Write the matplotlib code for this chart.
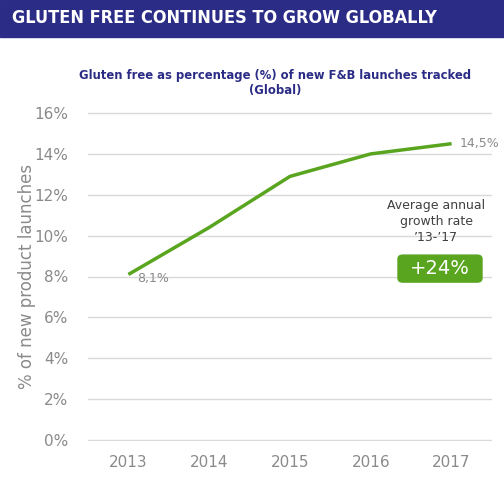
import matplotlib.pyplot as plt
from matplotlib.patches import Rectangle, FancyBboxPatch

# datos
years = ["2013", "2014", "2015", "2016", "2017"]
share = [8.1, 10.4, 12.9, 14.0, 14.5]
yticks = [0, 2, 4, 6, 8, 10, 12, 14, 16]

navy = "#2b2c86"
green = "#5aa51f"
gray = "#8a8a8a"

fig = plt.figure(figsize=(5.04, 4.88), dpi=100)

# banda del titulo
fig.patches.append(Rectangle((0, 1 - 37 / 488), 1, 37 / 488, transform=fig.transFigure,
                             color=navy, zorder=0))
fig.text(12 / 504, 1 - 18 / 488, "GLUTEN FREE CONTINUES TO GROW GLOBALLY", color="white",
         fontsize=13, fontweight="bold", va="center", ha="left",
         family="DejaVu Sans", fontstretch="condensed")

fig.text(275 / 504, 1 - 83 / 488, "Gluten free as percentage (%) of new F&B launches tracked\n(Global)",
         color=navy, fontsize=9.3, fontweight="bold", ha="center", va="center",
         family="DejaVu Sans", fontstretch="condensed", linespacing=1.25)

ax = fig.add_axes([88 / 504, 1 - 441 / 488, 404 / 504, 329 / 488])
x = list(range(len(years)))
ax.plot(x, share, color=green, lw=2.5, solid_capstyle="butt")

ax.set_xlim(-0.5, 4.5)
ax.set_ylim(-0.05, 16.05)
ax.set_yticks(yticks)
ax.set_yticklabels([f"{v}%" for v in yticks])
ax.set_xticks(x)
ax.set_xticklabels(years)
ax.grid(axis="y", color="#d9d9d9", lw=1)
ax.set_axisbelow(True)
for s in ax.spines.values():
    s.set_visible(False)
ax.tick_params(length=0, labelsize=11, labelcolor=gray, pad=10)
ax.tick_params(axis="y", pad=14)
ax.set_ylabel("% of new product launches", color=gray, fontsize=12, labelpad=-1)

ax.annotate("8,1%", (x[0], share[0]), xytext=(6, -3), textcoords="offset points",
            color=gray, fontsize=9, va="center", ha="left")
ax.annotate("14,5%", (x[-1], share[-1]), xytext=(6, 0), textcoords="offset points",
            color=gray, fontsize=9, va="center", ha="left", annotation_clip=False)

ax.text(0.862, 0.666, "Average annual\ngrowth rate\n\u201913-\u201917", transform=ax.transAxes,
        color="#404040", fontsize=9, ha="center", va="center", linespacing=1.3)

ax.add_patch(FancyBboxPatch((310 / 404, 0.483), 84 / 404, 0.082, transform=ax.transAxes,
                            boxstyle="round,pad=0,rounding_size=0.012", color=green, zorder=5))
ax.text(352 / 404, 0.525, "+24%", transform=ax.transAxes, color="white", fontsize=14,
        ha="center", va="center", zorder=6)

fig.savefig("out.png", dpi=100)
